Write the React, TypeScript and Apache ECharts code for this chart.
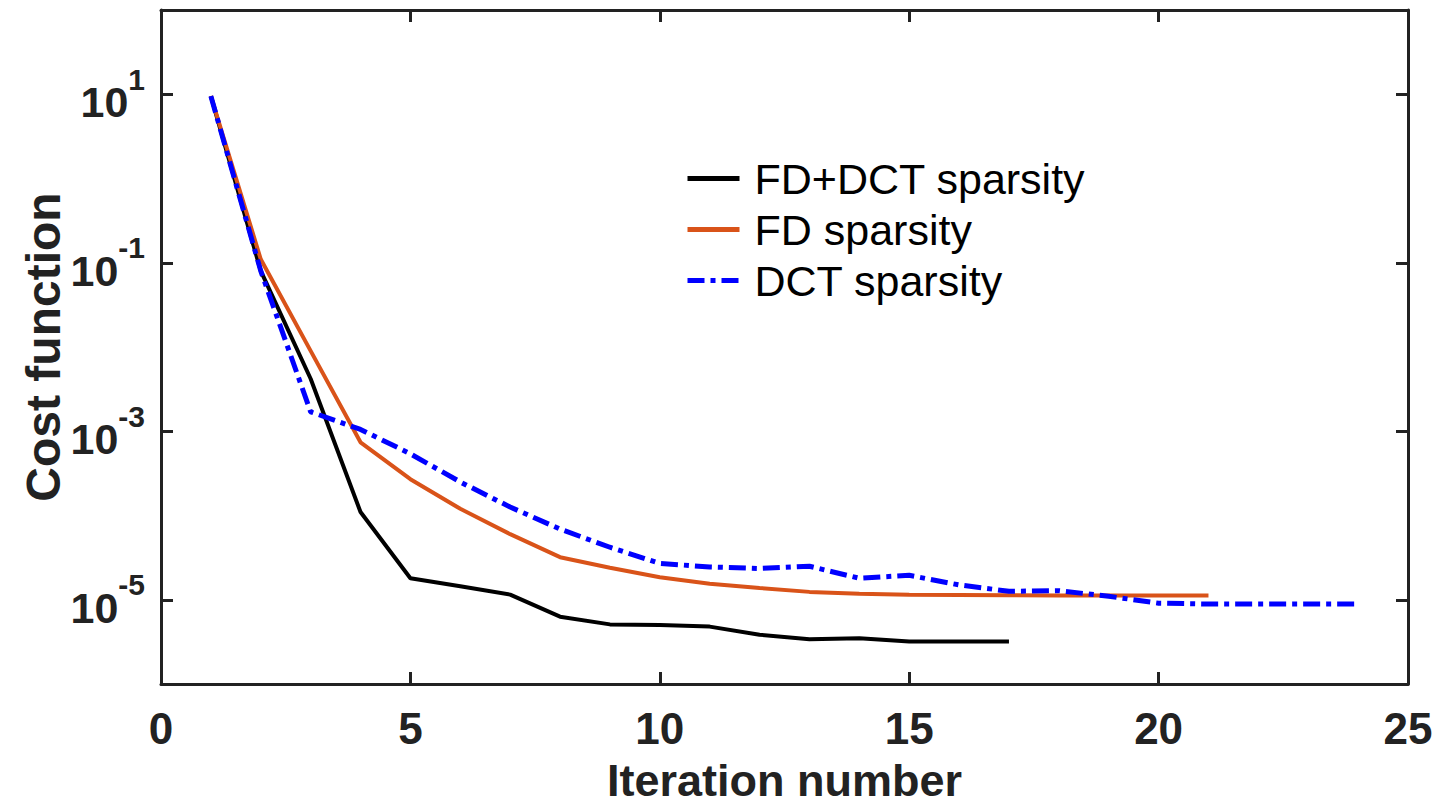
import React, { useEffect, useRef } from "react";
import * as echarts from "echarts";

const seriesNames = ["FD+DCT sparsity", "FD sparsity", "DCT sparsity"];
const fdDctIter = [1, 2, 3, 4, 5, 6, 7, 8, 9, 10, 11, 12, 13, 14, 15, 16, 17];
const fdDctCost = [9.5, 0.08, 0.0042, 1.1e-4, 1.8e-5, 1.45e-5, 1.15e-5, 6.3e-6, 5.1e-6, 5.0e-6, 4.8e-6, 3.85e-6, 3.4e-6, 3.5e-6, 3.2e-6, 3.2e-6, 3.2e-6];
const fdIter = [1, 2, 3, 4, 5, 6, 7, 8, 9, 10, 11, 12, 13, 14, 15, 16, 17, 18, 19, 20, 21];
const fdCost = [9.5, 0.11, 0.009, 7.4e-4, 2.7e-4, 1.2e-4, 6.0e-5, 3.2e-5, 2.4e-5, 1.85e-5, 1.55e-5, 1.38e-5, 1.24e-5, 1.18e-5, 1.15e-5, 1.14e-5, 1.13e-5, 1.12e-5, 1.12e-5, 1.12e-5, 1.12e-5];
const dctIter = [1, 2, 3, 4, 5, 6, 7, 8, 9, 10, 11, 12, 13, 14, 15, 16, 17, 18, 19, 20, 21, 22, 23, 24];
const dctCost = [9.5, 0.08, 0.0017, 1.05e-3, 5.4e-4, 2.5e-4, 1.26e-4, 6.9e-5, 4.2e-5, 2.7e-5, 2.45e-5, 2.35e-5, 2.5e-5, 1.8e-5, 1.95e-5, 1.5e-5, 1.26e-5, 1.28e-5, 1.1e-5, 9.1e-6, 8.9e-6, 8.9e-6, 8.9e-6, 8.9e-6];
const yTickValues = [1e-5, 1e-3, 1e-1, 1e1];

const FONT = "'Liberation Sans', Arial, Helvetica, sans-serif";
const AXIS_COLOR = "#222";

function pairs(xs: number[], ys: number[]) {
  return xs.map((x, i) => [x, ys[i]]);
}

export default function App() {
  const ref = useRef<HTMLDivElement>(null);
  useEffect(() => {
    if (!ref.current) return;
    const chart = echarts.init(ref.current, undefined, { renderer: "svg" });
    const tick = { show: true, inside: true, length: 12, lineStyle: { color: AXIS_COLOR, width: 3 } };
    const line = { show: true, onZero: false, lineStyle: { color: AXIS_COLOR, width: 3 } };
    chart.setOption({
      animation: false,
      backgroundColor: "#fff",
      textStyle: { fontFamily: FONT },
      grid: { left: 161, right: 42, top: 10, bottom: 123, containLabel: false, outerBoundsMode: "none" },
      legend: {
        orient: "vertical",
        left: 685,
        top: 157,
        padding: 0,
        itemWidth: 52,
        itemHeight: 14,
        itemGap: 8,
        lineStyle: { width: 5 },
        itemStyle: { opacity: 0 },
        textStyle: { fontSize: 43, color: "#000", fontFamily: FONT, padding: [0, 0, 0, 10] },
        data: seriesNames,
      },
      xAxis: [
        {
          type: "value",
          min: 0,
          max: 25,
          interval: 5,
          position: "bottom",
          name: "Iteration number",
          nameLocation: "middle",
          nameGap: 78,
          nameMoveOverlap: false,
          nameTextStyle: { fontSize: 45, lineHeight: 36, fontWeight: "bold", color: "#222", fontFamily: FONT },
          axisLine: line,
          axisTick: tick,
          splitLine: { show: false },
          axisLabel: { fontSize: 44, fontWeight: "bold", color: "#222", margin: 22, fontFamily: FONT },
        },
        {
          type: "value",
          min: 0,
          max: 25,
          interval: 5,
          position: "top",
          axisLine: line,
          axisTick: tick,
          splitLine: { show: false },
          axisLabel: { show: false },
        },
      ],
      yAxis: [
        {
          type: "log",
          logBase: 10,
          min: 1e-6,
          max: 1e2,
          position: "left",
          name: "Cost function",
          nameLocation: "middle",
          nameGap: 94,
          nameMoveOverlap: false,
          nameTextStyle: { fontSize: 48, fontWeight: "bold", color: "#222", fontFamily: FONT },
          axisLine: line,
          axisTick: { ...tick, customValues: yTickValues },
          splitLine: { show: false },
          minorTick: { show: false },
          axisLabel: {
            customValues: yTickValues,
            margin: 16,
            formatter: (v: number) => `{b|10}{s|${Math.round(Math.log10(v))}}`,
            rich: {
              b: { fontSize: 43, fontWeight: "bold", color: "#222", fontFamily: FONT, padding: [16, 0, 0, 0] },
              s: { fontSize: 30, fontWeight: "bold", color: "#222", fontFamily: FONT, padding: [0, 0, 30, 0] },
            },
          },
        },
        {
          type: "log",
          logBase: 10,
          min: 1e-6,
          max: 1e2,
          position: "right",
          axisLine: line,
          axisTick: { ...tick, customValues: yTickValues },
          splitLine: { show: false },
          axisLabel: { show: false },
        },
      ],
      series: [
        {
          name: seriesNames[0],
          type: "line",
          symbol: "none",
          data: pairs(fdDctIter, fdDctCost),
          lineStyle: { color: "#000", width: 4 },
          itemStyle: { color: "#000" },
        },
        {
          name: seriesNames[1],
          type: "line",
          symbol: "none",
          data: pairs(fdIter, fdCost),
          lineStyle: { color: "#D95319", width: 4 },
          itemStyle: { color: "#D95319" },
        },
        {
          name: seriesNames[2],
          type: "line",
          symbol: "none",
          data: pairs(dctIter, dctCost),
          lineStyle: { color: "#0000FF", width: 5, type: [17, 6, 5, 6] },
          itemStyle: { color: "#0000FF" },
        },
      ],
    });
    return () => chart.dispose();
  }, []);
  return (
    <div
      ref={ref}
      style={{ position: "absolute", left: 0, top: 0, width: 1450, height: 807 }}
    />
  );
}
